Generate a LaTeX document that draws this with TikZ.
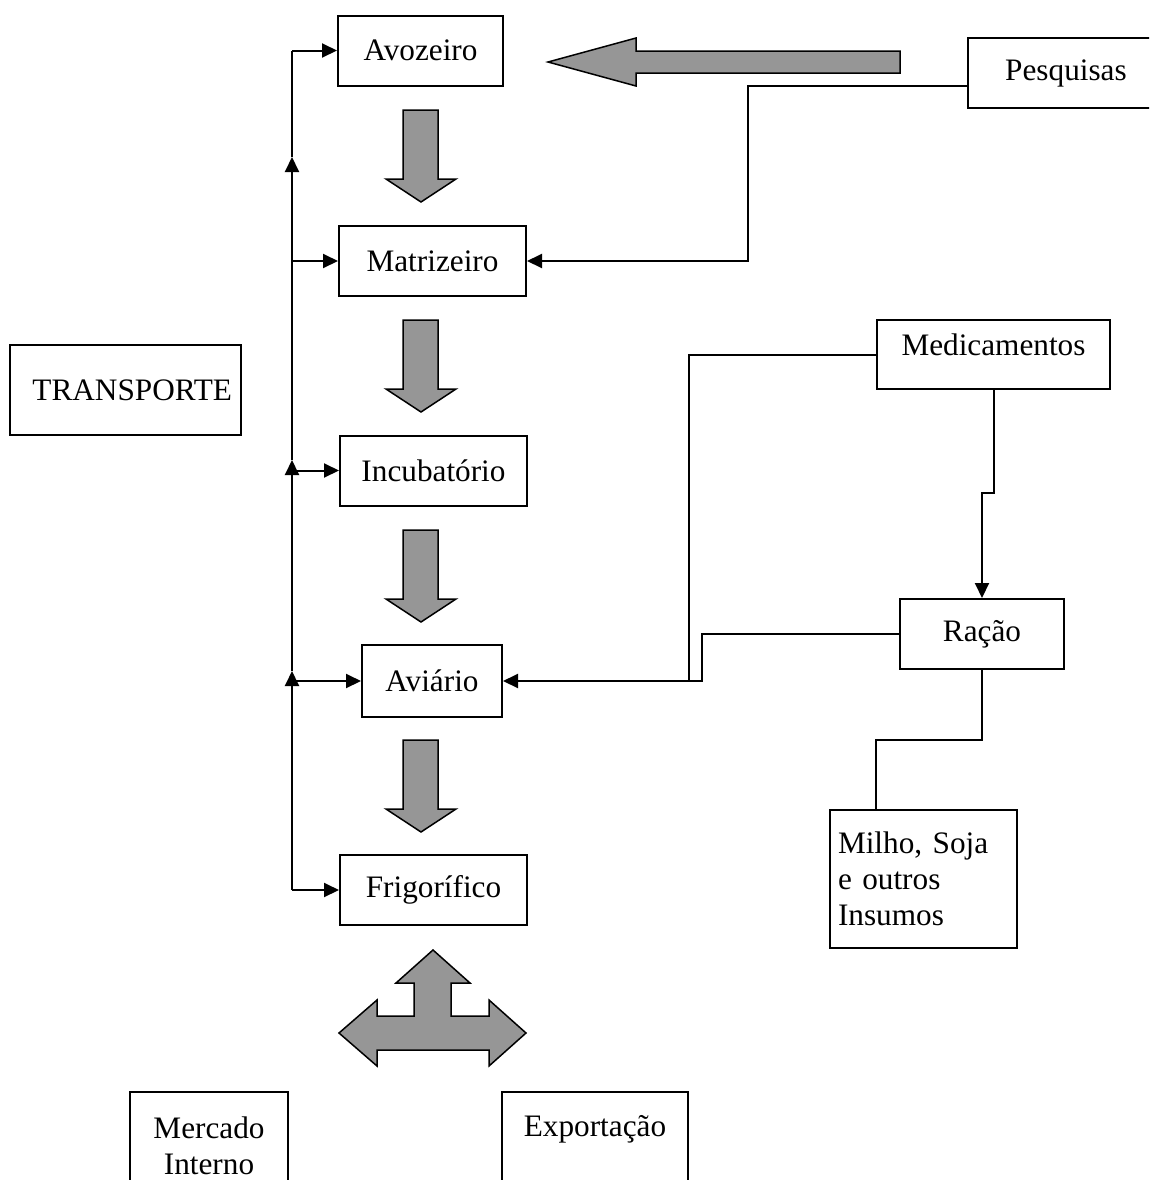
\documentclass[tikz,border=0pt]{standalone}
\usepackage{fontspec}
\setmainfont{Liberation Serif}
\usetikzlibrary{arrows.meta, calc}
\definecolor{setagris}{RGB}{150,150,150}

\begin{document}
\begin{tikzpicture}[x=0.4pt, y=-0.4pt, font=\fontsize{12.5}{14.4}\selectfont,
    caixa/.style={draw, line width=0.8pt, inner sep=2pt, minimum height=28pt},
    liga/.style={line width=0.8pt},
    seta/.style={liga, -{Triangle[length=6pt, width=5.6pt]}},
    bloco/.style={draw, line width=0.6pt, fill=setagris, line join=miter}]
        \clip (0,0) rectangle (1149,1180);

        % Caixas
        \node[caixa, minimum width=66pt] (avo) at (420.5,50.5) {Avozeiro};
        \node[caixa, minimum width=74.8pt] (mat) at (432.5,261) {Matrizeiro};
        \node[caixa, minimum width=74.8pt] (inc) at (433.5,470.5) {Incubatório};
        \node[caixa, minimum width=56pt, minimum height=28.8pt] (avi) at (432,681) {Aviário};
        \node[caixa, minimum width=74.8pt] (frig) at (433.5,890) {Frigorífico};
        \node[caixa, inner sep=3.6pt, text width=85.2pt, align=right, minimum height=36pt] (trans) at (125.5,390) {TRANSPORTE};
        \node[caixa, minimum width=78.8pt] (pes) at (1066,73) {Pesquisas};
        \node[caixa, minimum width=93.2pt, minimum height=27.6pt, text height=8.6pt, text depth=7.5pt] (med) at (993.5,354.5) {Medicamentos};
        \node[caixa, minimum width=65.6pt] (rac) at (982,634) {Ração};
        \node[caixa, inner sep=3.2pt, text width=68.4pt, align=left, minimum height=55.2pt] (milho) at (923.5,879) {Milho, Soja\\ e outros\\ Insumos};
        \node[caixa, minimum width=63.2pt, minimum height=43.2pt, align=center] (merc) at (209,1146) {Mercado\\ Interno};
        \node[caixa, minimum width=74.4pt, minimum height=43.2pt, text height=9pt, text depth=17pt] (exp) at (595,1146) {Exportação};

        % Setas grandes
        \foreach \y in {110,320,530,740}
            \draw[bloco] (403,\y) -- (438,\y) -- (438,\y+69) -- (456,\y+69) -- (421,\y+92) -- (386,\y+69) -- (403,\y+69) -- cycle;
        \draw[bloco] (900,51) -- (900,73) -- (636,73) -- (636,86) -- (548,62) -- (636,38) -- (636,51) -- cycle;
        \draw[bloco] (433,950) -- (470,983) -- (451,983) -- (451,1016) -- (489,1016) -- (489,1000) -- (526,1033)
            -- (489,1066) -- (489,1050) -- (377,1050) -- (377,1066) -- (339,1033) -- (377,1000) -- (377,1016)
            -- (414,1016) -- (414,983) -- (396,983) -- cycle;

        % Transporte
        \coordinate (t1) at (292,50.5);
        \coordinate (t2) at (292,261);
        \coordinate (t3) at (292,470.5);
        \coordinate (t4) at (292,681);
        \coordinate (t5) at (292,890);
        \coordinate (a1) at (292,157);
        \coordinate (a2) at (292,460);
        \coordinate (a3) at (292,671);
        \draw[seta] (t5) -- (a3);
        \draw[seta] (a3) -- (a2);
        \draw[seta] (a2) -- (a1);
        \draw[liga] (a1) -- (t1);
        \foreach \t/\n in {t1/avo, t2/mat, t3/inc, t4/avi, t5/frig}
            \draw[seta] (\t) -- (\n);

        % Ligações
        \coordinate (p1) at (748,86);
        \coordinate (m1) at (689,681);
        \coordinate (r1) at (702,681);
        \coordinate (m2) at (982,493);
        \coordinate (k1) at (876,740);
        \draw[seta] (pes.west |- p1) -- (p1) -- (p1 |- mat) -- (mat);
        \draw[seta] (med.west) -| (m1) -- (avi);
        \draw[liga] (rac.west) -| (r1) -- (m1);
        \draw[seta] (med.south) |- (m2) -- (rac);
        \draw[liga] (rac.south) |- (k1) -- (k1 |- milho.north);
    \end{tikzpicture}
\end{document}
